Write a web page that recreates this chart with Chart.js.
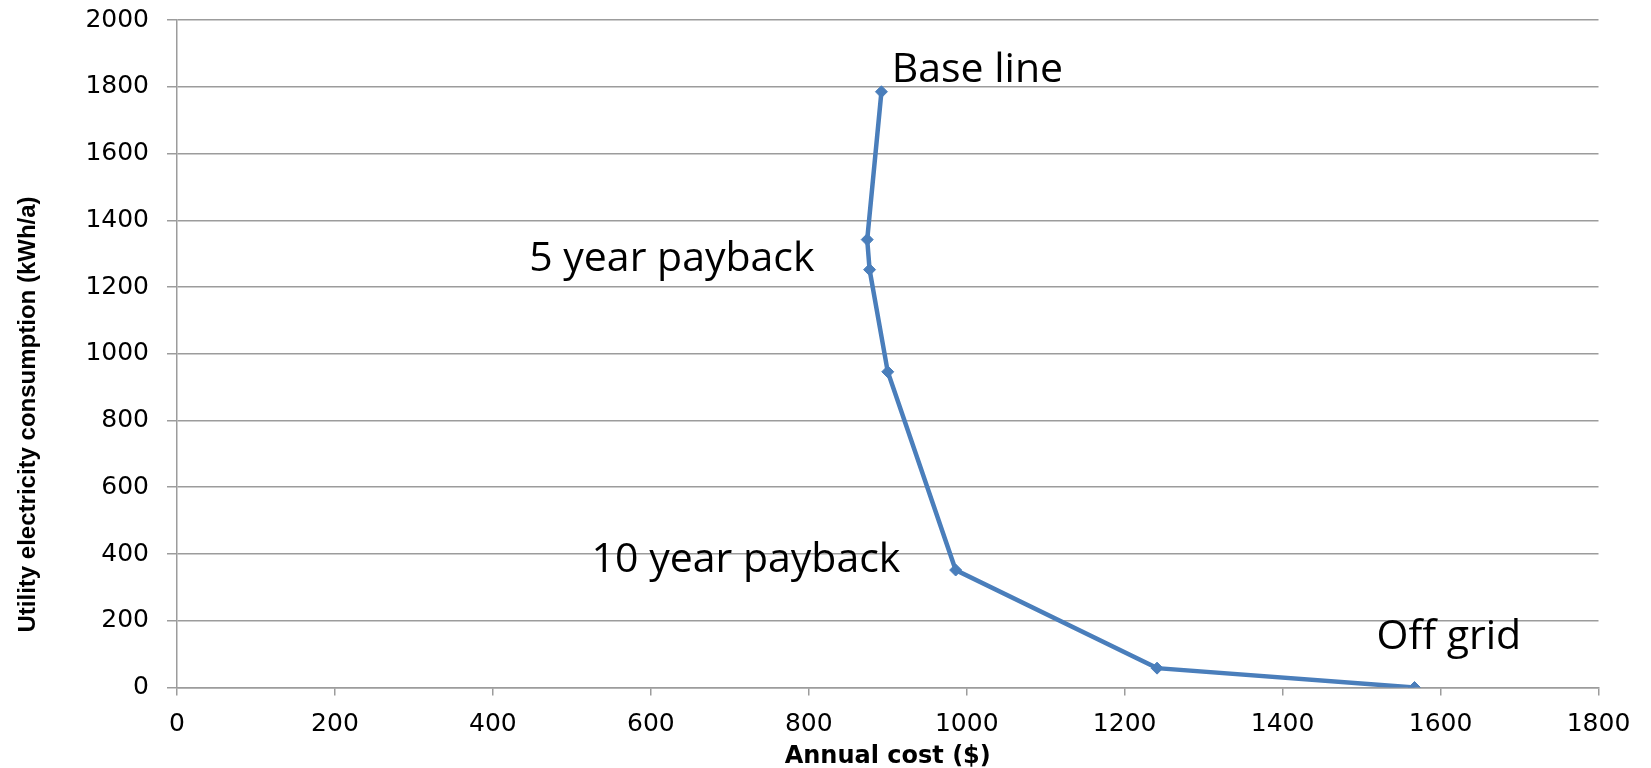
<!DOCTYPE html>
<html>
<head>
<meta charset="utf-8">
<script src="https://cdn.jsdelivr.net/npm/chart.js@4/dist/chart.umd.min.js"></script>
<style>
  html, body { margin: 0; padding: 0; background: #ffffff; }
  #wrap { width: 1651px; height: 768px; }
</style>
</head>
<body>
<div id="wrap"><canvas id="chart" width="1651" height="768"></canvas></div>
<script>
// Annual cost of each design option and its yearly utility electricity use
const annualCost = [892, 874, 877, 900, 986, 1241, 1567];
const utilityKWh = [1785, 1342, 1252, 946, 352, 58, 0];

// Axis ranges and tick spacing
const xTickMin = 0, xTickMax = 1800, xTickStep = 200;
const yTickMin = 0, yTickMax = 2000, yTickStep = 200;

// Axis titles
const xAxisTitle = 'Annual cost ($)';
const yAxisTitle = 'Utility electricity consumption (kWh/a)';

// Text callouts, anchored (left edge, vertical middle) in data units
const calloutText = ['Base line', '5 year payback', '10 year payback', 'Off grid'];
const calloutCost = [905, 446, 525, 1519];
const calloutKWh  = [1850, 1283, 381, 150];

const points = annualCost.map((c, i) => ({ x: c, y: utilityKWh[i] }));
const LINE_BLUE = '#4A7EBB';
const GRID_GREY = '#9C9C9C';

const calloutPlugin = {
  id: 'callouts',
  afterDatasetsDraw(chart) {
    const { ctx, chartArea, scales: { x, y } } = chart;
    ctx.save();
    ctx.fillStyle = '#000000';
    ctx.font = '41px "Open Sans", "Liberation Sans", sans-serif';
    ctx.textAlign = 'left';
    ctx.textBaseline = 'middle';
    calloutText.forEach((t, i) => {
      ctx.fillText(t, x.getPixelForValue(calloutCost[i]), y.getPixelForValue(calloutKWh[i]));
    });
    ctx.restore();

    // Vertical title of the value axis, set low along the left edge
    ctx.save();
    ctx.fillStyle = '#000000';
    ctx.font = 'bold 24px "Liberation Sans", sans-serif';
    ctx.textAlign = 'left';
    ctx.textBaseline = 'alphabetic';
    ctx.translate(35, chartArea.bottom - 55);
    ctx.rotate(-Math.PI / 2);
    ctx.fillText(yAxisTitle, 0, 0);
    ctx.restore();
  }
};

new Chart(document.getElementById('chart'), {
  type: 'scatter',
  data: {
    datasets: [{
      data: points,
      showLine: true,
      borderColor: LINE_BLUE,
      backgroundColor: LINE_BLUE,
      borderWidth: 4.5,
      pointStyle: 'rectRot',
      pointRadius: 6,
      pointHoverRadius: 6,
      pointBorderWidth: 1,
      tension: 0
    }]
  },
  options: {
    responsive: false,
    animation: false,
    events: [],
    layout: { autoPadding: false, padding: { top: 20, right: 52.5, left: 0, bottom: 0 } },
    plugins: {
      legend: { display: false },
      tooltip: { enabled: false },
      title: { display: false }
    },
    scales: {
      x: {
        type: 'linear',
        min: xTickMin,
        max: xTickMax,
        ticks: {
          stepSize: xTickStep,
          color: '#000000',
          padding: 14,
          maxRotation: 0,
          callback: v => String(v),
          font: { family: '"DejaVu Sans", sans-serif', size: 25 }
        },
        grid: {
          drawOnChartArea: false,
          drawTicks: true,
          tickLength: 8,
          color: GRID_GREY,
          lineWidth: 1.5
        },
        border: { display: true, color: GRID_GREY, width: 1.5 },
        title: {
          display: true,
          text: xAxisTitle,
          color: '#000000',
          padding: { top: 0, bottom: -3 },
          font: { family: '"DejaVu Sans", sans-serif', size: 24, weight: 'bold' }
        },
        afterFit(scale) {
          scale.height = 80.5;
          scale.paddingLeft = 0;
          scale.paddingRight = 0;
        }
      },
      y: {
        type: 'linear',
        min: yTickMin,
        max: yTickMax,
        ticks: {
          stepSize: yTickStep,
          color: '#000000',
          padding: 18,
          callback: v => String(v),
          font: { family: '"DejaVu Sans", sans-serif', size: 25 }
        },
        grid: {
          drawOnChartArea: true,
          drawTicks: true,
          tickLength: 10,
          color: GRID_GREY,
          lineWidth: 1.5
        },
        border: { display: true, color: GRID_GREY, width: 1.5 },
        title: { display: false },
        afterFit(scale) {
          scale.width = 177;
          scale.paddingTop = 0;
          scale.paddingBottom = 0;
        }
      }
    }
  },
  plugins: [calloutPlugin]
});
</script>
</body>
</html>
